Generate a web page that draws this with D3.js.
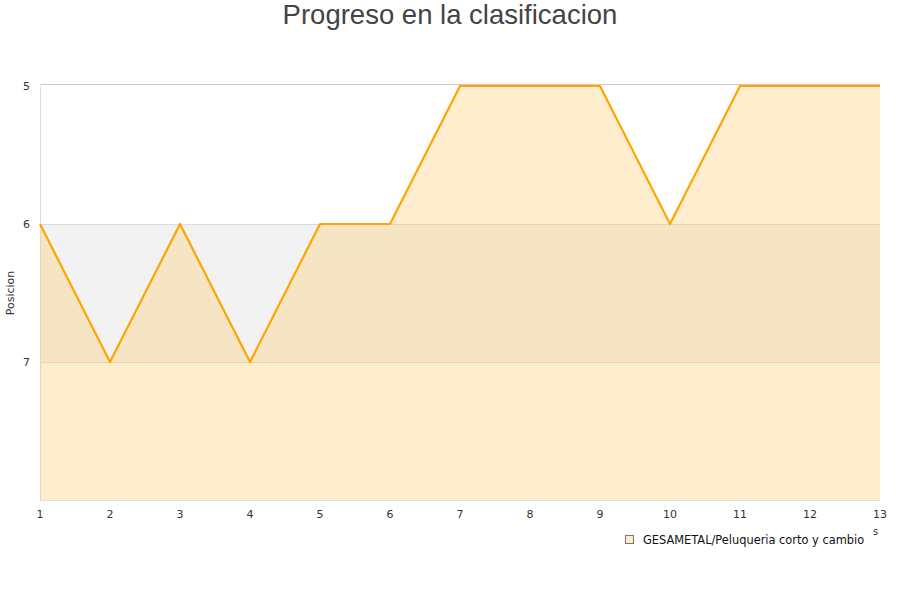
<!DOCTYPE html>
<html><head><meta charset="utf-8">
<script src="https://cdn.jsdelivr.net/npm/d3@7"></script>
<style>body{margin:0;background:#fff}svg{display:block}</style>
</head><body>
<svg id="c" width="900" height="600"></svg>
<script>
const jornadas = [1,2,3,4,5,6,7,8,9,10,11,12,13];
const posiciones = [6,7,6,7,6,6,5,5,5,6,5,5,5];
const yTicks = [5,6,7];
const seriesName = "GESAMETAL/Peluqueria corto y cambio";
const titleText = "Progreso en la clasificacion";
const yLabel = "Posicion";

const svg = d3.select("#c");
const m = {l:40, r:880, t:86, b:500};
const x = d3.scaleLinear().domain([1,13]).range([m.l, m.r]);
const y = d3.scaleLinear().domain([5,8]).range([m.t, m.b]);

svg.append("rect").attr("x", m.l).attr("y", y(6)).attr("width", m.r-m.l).attr("height", y(7)-y(6)).attr("fill", "#f2f2f2");

svg.append("g").selectAll("line").data([6,7,8]).join("line")
  .attr("x1", m.l).attr("x2", m.r).attr("y1", d=>y(d)).attr("y2", d=>y(d))
  .attr("stroke", "#dddddd").attr("stroke-width", 1).attr("shape-rendering","crispEdges");
svg.append("line").attr("x1", m.l).attr("x2", m.l).attr("y1", m.t).attr("y2", m.b)
  .attr("stroke", "#dddddd").attr("shape-rendering","crispEdges");

const data = jornadas.map((j,i)=>({j, p:posiciones[i]}));
const area = d3.area().x(d=>x(d.j)).y0(y(8)).y1(d=>y(d.p));
svg.append("path").datum(data).attr("d", area).attr("fill", "rgba(255,200,90,0.3)");
svg.append("line").attr("x1", m.l).attr("x2", m.r).attr("y1", y(5)-1.5).attr("y2", y(5)-1.5)
  .attr("stroke", "#cccccc").attr("stroke-width", 1);
const line = d3.line().x(d=>x(d.j)).y(d=>y(d.p));
svg.append("path").datum(data).attr("d", line).attr("fill","none").attr("stroke","#ffa500").attr("stroke-width",2.2).attr("stroke-linejoin","round");

svg.append("g").selectAll("text").data(yTicks).join("text")
  .attr("x", 30).attr("y", d=>y(d)+4).attr("text-anchor","end")
  .attr("font-family","DejaVu Sans").attr("font-size",11).attr("fill","#333").text(d=>d);
svg.append("g").selectAll("text").data(jornadas).join("text")
  .attr("x", d=>x(d)).attr("y", 518).attr("text-anchor","middle")
  .attr("font-family","DejaVu Sans").attr("font-size",11).attr("fill","#333").text(d=>d);

svg.append("text").attr("x",450).attr("y",24).attr("text-anchor","middle")
  .attr("font-family","Liberation Sans, Arial, sans-serif").attr("font-size",27.5).attr("fill","#444").text(titleText);

svg.append("text").attr("transform","translate(14,293) rotate(-90)").attr("text-anchor","middle")
  .attr("font-family","DejaVu Sans").attr("font-size",11).attr("fill","#333").text(yLabel);

svg.append("text").attr("x",873).attr("y",535).attr("font-family","DejaVu Sans").attr("font-size",10).attr("fill","#333").text("s");

svg.append("rect").attr("x",625.5).attr("y",535.5).attr("width",8).attr("height",8)
  .attr("fill","#ffebc8").attr("stroke","#777");
svg.append("text").attr("x",643).attr("y",543.5).attr("font-family","DejaVu Sans").attr("font-size",11.4).attr("fill","#111").text(seriesName);
</script>
</body></html>
